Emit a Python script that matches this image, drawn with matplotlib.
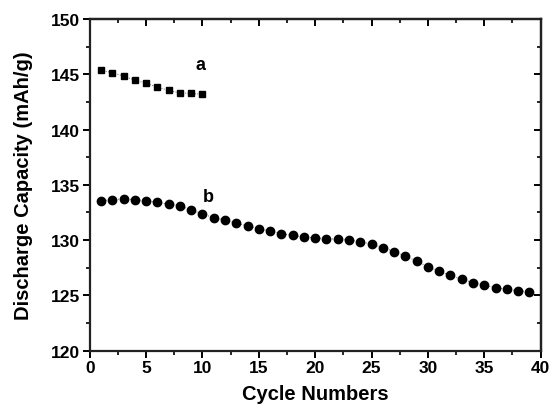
import matplotlib
matplotlib.use("Agg")
import matplotlib.pyplot as plt
from matplotlib.ticker import MultipleLocator

plt.rcParams['font.family'] = ['Liberation Sans', 'DejaVu Sans']
plt.rcParams['font.weight'] = 'bold'
plt.rcParams['axes.labelweight'] = 'bold'

cycles_a = list(range(1, 11))
capacity_a = [145.38, 145.14, 144.84, 144.47, 144.18, 143.84, 143.54, 143.32, 143.27, 143.18]

cycles_b = list(range(1, 40))
capacity_b = [133.55, 133.67, 133.72, 133.67, 133.54, 133.42, 133.24, 133.09, 132.74, 132.34,
              132.04, 131.79, 131.55, 131.28, 131.04, 130.80, 130.59, 130.43, 130.28, 130.19,
              130.13, 130.07, 130.00, 129.86, 129.62, 129.32, 128.96, 128.56, 128.08, 127.60,
              127.17, 126.81, 126.45, 126.15, 125.91, 125.70, 125.54, 125.42, 125.30]

x_ticks = [0, 5, 10, 15, 20, 25, 30, 35, 40]
y_ticks = [120, 125, 130, 135, 140, 145, 150]
x_label = "Cycle Numbers"
y_label = "Discharge Capacity (mAh/g)"

fig = plt.figure(figsize=(5.52, 4.06), dpi=100)
ax = fig.add_axes([0.1625, 0.134, 0.817, 0.8167])

ax.plot(cycles_a, capacity_a, linestyle=(0, (1, 1.5)), color='#666666', linewidth=0.7,
        marker='s', markersize=4.8, markerfacecolor='black', markeredgecolor='black')
ax.plot(cycles_b, capacity_b, linestyle=(0, (1, 1.5)), color='#666666', linewidth=0.7,
        marker='o', markersize=6, markerfacecolor='black', markeredgecolor='black')

ax.text(9.8, 145.9, "a", fontsize=13, fontweight='bold', ha='center', va='center')
ax.text(10.5, 133.9, "b", fontsize=13, fontweight='bold', ha='center', va='center')

ax.set_xlim(0, 40)
ax.set_ylim(120, 150)
ax.set_xticks(x_ticks, [str(v) for v in x_ticks], fontsize=12.5, fontweight='bold')
ax.set_yticks(y_ticks, [str(v) for v in y_ticks], fontsize=12.5, fontweight='bold')
ax.xaxis.set_minor_locator(MultipleLocator(2.5))
ax.yaxis.set_minor_locator(MultipleLocator(2.5))

for s in ax.spines.values():
    s.set_linewidth(1.6)
    s.set_color('#222222')

ax.tick_params(axis='both', which='major', direction='out', length=5, width=1.4, pad=2)
ax.tick_params(axis='both', which='minor', direction='out', length=3, width=1.2)
ax.tick_params(top=False, right=False)

ax2 = ax.secondary_yaxis('right')
ax2.yaxis.set_major_locator(MultipleLocator(5))
ax2.yaxis.set_minor_locator(MultipleLocator(2.5))
ax2.tick_params(which='major', direction='in', length=5, width=1.4, labelright=False)
ax2.tick_params(which='minor', direction='in', length=3, width=1.2)
ax2.spines['right'].set_linewidth(1.6)

ax3 = ax.secondary_xaxis('top')
ax3.xaxis.set_major_locator(MultipleLocator(5))
ax3.xaxis.set_minor_locator(MultipleLocator(2.5))
ax3.tick_params(which='major', direction='in', length=5, width=1.4, labeltop=False)
ax3.tick_params(which='minor', direction='in', length=3, width=1.2)
ax3.spines['top'].set_linewidth(1.6)

ax.set_xlabel(x_label, fontsize=14.5, fontweight='bold', labelpad=6)
ax.set_ylabel(y_label, fontsize=14.5, fontweight='bold', labelpad=13)

fig.savefig("out.png", dpi=100)
